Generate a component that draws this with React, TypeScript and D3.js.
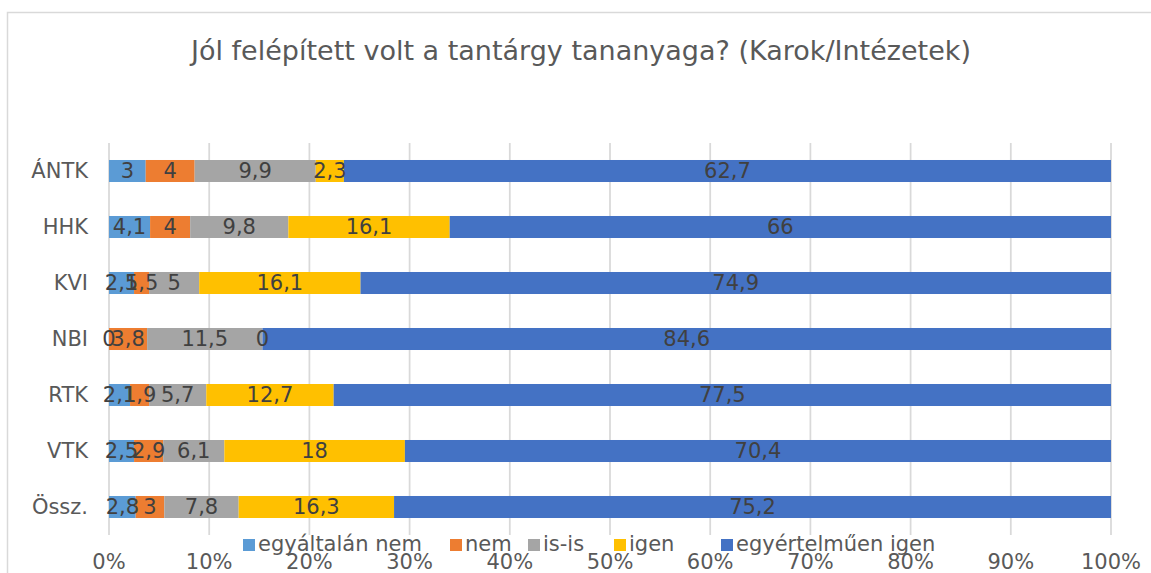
import React, { useEffect, useRef } from 'react';
import * as d3 from 'd3';

const categories = ['ÁNTK', 'HHK', 'KVI', 'NBI', 'RTK', 'VTK', 'Össz.'];
const seriesNames = ['egyáltalán nem', 'nem', 'is-is', 'igen', 'egyértelműen igen'];
const seriesColors = ['#5B9BD5', '#ED7D31', '#A5A5A5', '#FFC000', '#4472C4'];

const egyaltalanNem = [3, 4.1, 2.5, 0, 2.1, 2.5, 2.8];
const nem = [4, 4, 1.5, 3.8, 1.9, 2.9, 3];
const isIs = [9.9, 9.8, 5, 11.5, 5.7, 6.1, 7.8];
const igen = [2.3, 16.1, 16.1, 0, 12.7, 18, 16.3];
const egyertelmuenIgen = [62.7, 66, 74.9, 84.6, 77.5, 70.4, 75.2];

const tickValues = [0, 0.1, 0.2, 0.3, 0.4, 0.5, 0.6, 0.7, 0.8, 0.9, 1];

const title = 'Jól felépített volt a tantárgy tananyaga? (Karok/Intézetek)';

const W = 1151;
const H = 573;
const FONT = 'DejaVu Sans, Verdana, sans-serif';

const App = () => {
  const svgRef = useRef<SVGSVGElement>(null);

  useEffect(() => {
    if (!svgRef.current) return;
    const svg = d3.select(svgRef.current);
    svg.selectAll('*').remove();

    // build rows for the stack
    const allSeries = [egyaltalanNem, nem, isIs, igen, egyertelmuenIgen];
    const rows = categories.map((c, i) => {
      const row: any = { cat: c };
      seriesNames.forEach((s, k) => { row[s] = allSeries[k][i]; });
      return row;
    });

    // 100% stacked: each row is normalised to its own total
    const stacked = d3.stack()
      .keys(seriesNames)
      .offset(d3.stackOffsetExpand)(rows);

    const x = d3.scaleLinear().domain([0, 1]).range([109, 1111]);
    const y = d3.scaleBand()
      .domain(categories)
      .range([143, 535])
      .paddingInner(0.607)
      .paddingOuter(0.3035);

    svg.append('rect').attr('width', W).attr('height', H).attr('fill', '#fff');

    // chart frame (cropped on right and bottom)
    svg.append('path')
      .attr('d', `M7.5,${H} V12.5 H${W}`)
      .attr('fill', 'none')
      .attr('stroke', '#d9d9d9')
      .attr('stroke-width', 1.5);

    // title
    svg.append('text')
      .attr('x', 581)
      .attr('y', 50)
      .attr('text-anchor', 'middle')
      .attr('dominant-baseline', 'central')
      .attr('font-family', FONT)
      .attr('font-size', 27)
      .attr('fill', '#595959')
      .text(title);

    // gridlines
    svg.append('g')
      .selectAll('line')
      .data(tickValues)
      .enter()
      .append('line')
      .attr('x1', d => x(d))
      .attr('x2', d => x(d))
      .attr('y1', 143)
      .attr('y2', 535)
      .attr('stroke', '#d9d9d9')
      .attr('stroke-width', 1.75);

    // bars
    svg.append('g')
      .selectAll('g')
      .data(stacked)
      .enter()
      .append('g')
      .attr('fill', (_, k) => seriesColors[k])
      .selectAll('rect')
      .data(d => d)
      .enter()
      .append('rect')
      .attr('x', d => x(d[0]))
      .attr('width', d => x(d[1]) - x(d[0]))
      .attr('y', d => y(d.data.cat as string)!)
      .attr('height', y.bandwidth());

    // data labels (drawn after all bars, like Excel does)
    const fmt = (v: number) => String(v).replace('.', ',');
    svg.append('g')
      .selectAll('g')
      .data(stacked)
      .enter()
      .append('g')
      .selectAll('text')
      .data(s => s.map(d => ({ d, key: s.key })))
      .enter()
      .append('text')
      .attr('x', ({ d }) => (x(d[0]) + x(d[1])) / 2)
      .attr('y', ({ d }) => y(d.data.cat as string)! + y.bandwidth() / 2)
      .attr('text-anchor', 'middle')
      .attr('dominant-baseline', 'central')
      .attr('font-family', FONT)
      .attr('font-size', 21)
      .attr('fill', '#404040')
      .text(({ d, key }) => fmt(d.data[key] as number));

    // category labels
    svg.append('g')
      .selectAll('text')
      .data(categories)
      .enter()
      .append('text')
      .attr('x', 88)
      .attr('y', d => y(d)! + y.bandwidth() / 2)
      .attr('text-anchor', 'end')
      .attr('dominant-baseline', 'central')
      .attr('font-family', FONT)
      .attr('font-size', 21)
      .attr('fill', '#595959')
      .text(d => d);

    // x tick labels
    svg.append('g')
      .selectAll('text')
      .data(tickValues)
      .enter()
      .append('text')
      .attr('x', d => x(d))
      .attr('y', 562)
      .attr('text-anchor', 'middle')
      .attr('dominant-baseline', 'central')
      .attr('font-family', FONT)
      .attr('font-size', 21)
      .attr('fill', '#595959')
      .text(d => d3.format('.0%')(d));

    // legend
    const legendX = [243, 450, 528, 614, 721];
    const legend = svg.append('g');
    seriesNames.forEach((s, k) => {
      legend.append('rect')
        .attr('x', legendX[k])
        .attr('y', 539)
        .attr('width', 12)
        .attr('height', 12)
        .attr('fill', seriesColors[k]);
      legend.append('text')
        .attr('x', legendX[k] + 15)
        .attr('y', 544)
        .attr('dominant-baseline', 'central')
        .attr('font-family', FONT)
        .attr('font-size', 21)
        .attr('fill', '#595959')
        .text(s);
    });
  }, []);

  return (
    <div style={{ position: 'absolute', left: 0, top: 0 }}>
      <svg ref={svgRef} width={W} height={H} style={{ display: 'block' }}></svg>
    </div>
  );
};

export default App;
